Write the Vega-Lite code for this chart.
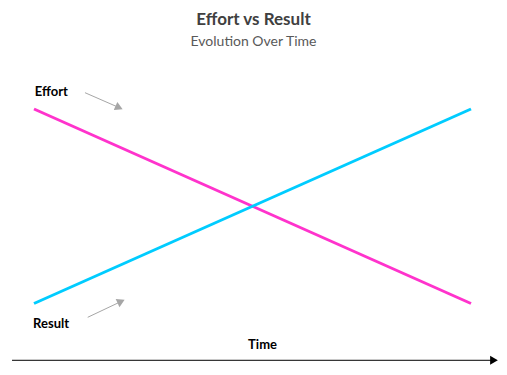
{
  "$schema": "https://vega.github.io/schema/vega-lite/v6.json",
  "width": 507,
  "height": 315,
  "autosize": {"type": "none"},
  "padding": {"left": 0, "right": 0, "top": 60, "bottom": 0},
  "background": "white",
  "config": {"view": {"stroke": null}},
  "title": {
    "text": "Effort vs Result",
    "subtitle": "Evolution Over Time",
    "anchor": "middle",
    "font": "Lato",
    "fontSize": 17,
    "fontWeight": "bold",
    "color": "#404040",
    "subtitleFont": "Lato",
    "subtitleFontSize": 14,
    "subtitleColor": "#595959",
    "subtitlePadding": 6,
    "offset": 10
  },
  "datasets": {
    "series": [
      {"series": "Effort", "time": 0, "level": 10},
      {"series": "Effort", "time": 10, "level": 0},
      {"series": "Result", "time": 0, "level": 0},
      {"series": "Result", "time": 10, "level": 10}
    ],
    "sideLabels": [
      {"text": "Effort", "time": 0.02, "level": 10.86},
      {"text": "Result", "time": -0.02, "level": -1.07}
    ],
    "axisLabel": [
      {"text": "Time", "time": 5.23, "level": -2.15}
    ],
    "arrows": [
      {"arrow": "effort", "time": 1.167, "level": 10.838},
      {"arrow": "effort", "time": 1.947, "level": 10.072},
      {"arrow": "result", "time": 1.229, "level": -0.71},
      {"arrow": "result", "time": 1.993, "level": 0.103},
      {"arrow": "time", "time": -0.503, "level": -2.92},
      {"arrow": "time", "time": 10.458, "level": -2.92}
    ],
    "heads": [
      {"arrow": "effort", "time": 1.947, "level": 10.072},
      {"arrow": "result", "time": 1.993, "level": 0.103},
      {"arrow": "time", "time": 10.526, "level": -2.92}
    ]
  },
  "layer": [
    {
      "data": {"name": "series"},
      "mark": {"type": "line", "strokeWidth": 3, "clip": false},
      "encoding": {
        "x": {"field": "time", "type": "quantitative", "scale": {"domain": [-0.778, 10.824], "nice": false, "zero": false}, "axis": null},
        "y": {"field": "level", "type": "quantitative", "scale": {"domain": [-3.676, 12.519], "nice": false, "zero": false}, "axis": null},
        "color": {"field": "series", "type": "nominal", "scale": {"domain": ["Effort", "Result"], "range": ["#FF33CC", "#00CCFF"]}, "legend": null}
      }
    },
    {
      "data": {"name": "arrows"},
      "mark": {"type": "line", "strokeWidth": 1},
      "encoding": {
        "x": {"field": "time", "type": "quantitative"},
        "y": {"field": "level", "type": "quantitative"},
        "detail": {"field": "arrow"},
        "stroke": {"field": "arrow", "type": "nominal", "scale": {"domain": ["effort", "result", "time"], "range": ["#A6A6A6", "#A6A6A6", "#000000"]}, "legend": null}
      }
    },
    {
      "data": {"name": "heads"},
      "transform": [{"filter": "datum.arrow === 'effort'"}],
      "mark": {"type": "point", "shape": "triangle-right", "filled": true, "opacity": 1, "size": 80, "angle": 24, "color": "#A6A6A6"},
      "encoding": {
        "x": {"field": "time", "type": "quantitative"},
        "y": {"field": "level", "type": "quantitative"}
      }
    },
    {
      "data": {"name": "heads"},
      "transform": [{"filter": "datum.arrow === 'result'"}],
      "mark": {"type": "point", "shape": "triangle-right", "filled": true, "opacity": 1, "size": 80, "angle": 335, "color": "#A6A6A6"},
      "encoding": {
        "x": {"field": "time", "type": "quantitative"},
        "y": {"field": "level", "type": "quantitative"}
      }
    },
    {
      "data": {"name": "heads"},
      "transform": [{"filter": "datum.arrow === 'time'"}],
      "mark": {"type": "point", "shape": "triangle-right", "filled": true, "opacity": 1, "size": 80, "angle": 0, "color": "#000000"},
      "encoding": {
        "x": {"field": "time", "type": "quantitative"},
        "y": {"field": "level", "type": "quantitative"}
      }
    },
    {
      "data": {"name": "sideLabels"},
      "mark": {"type": "text", "font": "Lato", "fontSize": 13, "fontWeight": "bold", "color": "#000000", "baseline": "middle", "align": "left"},
      "encoding": {
        "x": {"field": "time", "type": "quantitative"},
        "y": {"field": "level", "type": "quantitative"},
        "text": {"field": "text"}
      }
    },
    {
      "data": {"name": "axisLabel"},
      "mark": {"type": "text", "font": "Lato", "fontSize": 13, "fontWeight": "bold", "color": "#000000", "baseline": "middle", "align": "center"},
      "encoding": {
        "x": {"field": "time", "type": "quantitative"},
        "y": {"field": "level", "type": "quantitative"},
        "text": {"field": "text"}
      }
    }
  ]
}
